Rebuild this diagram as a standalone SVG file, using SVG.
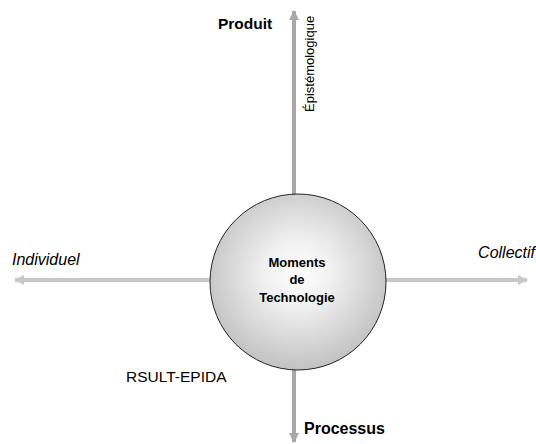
<svg xmlns="http://www.w3.org/2000/svg" width="536" height="444" viewBox="0 0 536 444">
<style>
.ax{stroke-width:4;fill:none}
.v{stroke:#a8a8a8}
.h{stroke:#c8c8c8}
.b{font-family:"Liberation Sans",Arial,sans-serif;font-weight:bold;fill:#000}
.i{font-family:"Liberation Sans",Arial,sans-serif;font-style:italic;font-size:16px;fill:#000}
.n{font-family:"Liberation Sans",Arial,sans-serif;fill:#000}
</style>
<defs>
<marker id="av" viewBox="0 0 10 10" refX="9" refY="5" markerWidth="2.5" markerHeight="2.5" orient="auto"><path d="M0,0L10,5L0,10z" fill="#a8a8a8"/></marker>
<marker id="ah" viewBox="0 0 10 10" refX="9" refY="5" markerWidth="2.5" markerHeight="2.5" orient="auto"><path d="M0,0L10,5L0,10z" fill="#c8c8c8"/></marker>
<radialGradient id="g" cx="0.5" cy="0.45" r="0.55">
<stop offset="0" stop-color="#ffffff"/>
<stop offset="0.35" stop-color="#f0f0f0"/>
<stop offset="1" stop-color="#c2c2c2"/>
</radialGradient>
</defs>
<g id="connectors">
<line class="ax v" x1="294" y1="195" x2="294" y2="11" marker-end="url(#av)"/>
<line class="ax v" x1="294" y1="368" x2="294" y2="442" marker-end="url(#av)"/>
<line class="ax h" x1="210" y1="280" x2="15" y2="280" marker-end="url(#ah)"/>
<line class="ax h" x1="386" y1="280" x2="527" y2="280" marker-end="url(#ah)"/>
</g>
<g id="center">
<circle cx="298" cy="282" r="88" fill="url(#g)" stroke="#222" stroke-width="1"/>
<text class="b" font-size="13" text-anchor="middle" x="297" y="267">Moments</text>
<text class="b" font-size="13" text-anchor="middle" x="297" y="284">de</text>
<text class="b" font-size="13" text-anchor="middle" x="297" y="302">Technologie</text>
</g>
<g id="produit"><text class="b" font-size="15.5" x="218" y="29">Produit</text></g>
<g id="epist"><text class="n" font-size="13" transform="translate(314,112) rotate(-90)">Épistémologique</text></g>
<g id="individuel"><text class="i" x="12" y="265">Individuel</text></g>
<g id="collectif"><text class="i" text-anchor="end" x="535" y="258">Collectif</text></g>
<g id="rsult"><text class="n" font-size="15.5" x="126" y="382">RSULT-EPIDA</text></g>
<g id="processus"><text class="b" font-size="16" x="304" y="434">Processus</text></g>
</svg>
